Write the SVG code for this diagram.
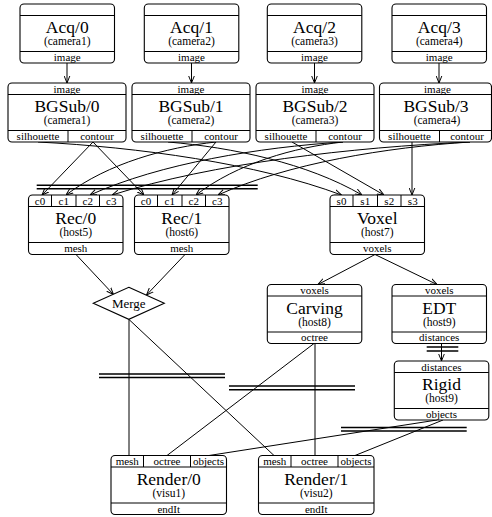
<svg xmlns="http://www.w3.org/2000/svg" width="492" height="517" viewBox="0 0 492 517">
<style>
.box{fill:#fff;stroke:#000;stroke-width:1.1}
.sep{stroke:#000;stroke-width:1;fill:none}
text{font-family:"Liberation Serif","Times New Roman",serif;text-anchor:middle;fill:#000}
.t{font-size:17.5px}
.s{font-size:11.5px}
.p{font-size:11px}
.e{fill:none;stroke:#000;stroke-width:1}
.a{marker-end:url(#arr)}
.bar{stroke:#000;stroke-width:1.6}
</style>
<defs>
<marker id="arr" viewBox="0 0 10 10" refX="10" refY="5" markerWidth="7" markerHeight="7" markerUnits="userSpaceOnUse" orient="auto">
<path d="M0,1 L10,5 L0,9" fill="none" stroke="#000" stroke-width="1.4"/>
</marker>
</defs>
<rect width="492" height="517" fill="#fff"/>

<g id="connectors">
<line class="e a" x1="67" y1="63" x2="67" y2="83"/>
<line class="e a" x1="191.5" y1="63" x2="191.5" y2="83"/>
<line class="e a" x1="314.5" y1="63" x2="314.5" y2="83"/>
<line class="e a" x1="439" y1="63" x2="439" y2="83"/>
<path class="e a" d="M93,142 L42,195"/>
<path class="e a" d="M93,142 L144,195"/>
<path class="e a" d="M216,142 C166.5,147.3 108,163.2 66,195"/>
<path class="e a" d="M216,142 L172,195"/>
<path class="e a" d="M343,142 C259.5,147.3 160.8,163.2 90,195"/>
<path class="e a" d="M343,142 C294.5,147.3 237.2,163.2 196,195"/>
<path class="e a" d="M470,142 C351.9,147.3 212.2,163.2 112,195"/>
<path class="e a" d="M470,142 C386.8,147.3 288.6,163.2 218,195"/>
<path class="e a" d="M38,142 C138.2,147.3 256.5,163.2 341.5,195"/>
<path class="e a" d="M168,142 C232,147.3 307.7,163.2 362,195"/>
<path class="e a" d="M292,142 L384,195"/>
<path class="e a" d="M412,142 L412,195"/>
<path class="e a" d="M76,254.5 L113.5,294.5"/>
<path class="e a" d="M185,254.5 L146.5,295"/>
<path class="e a" d="M375,254.5 L318,284.5"/>
<path class="e a" d="M375,254.5 L437,284.5"/>
<path class="e a" d="M441.5,343.5 L441.5,361"/>
<path class="e" d="M129,319.5 L129,455.5"/>
<path class="e" d="M129,319.5 L274,455.5"/>
<path class="e" d="M314,343.5 L167,455.5"/>
<path class="e" d="M315,343.5 L315,455.5"/>
<path class="e" d="M437,420 L209,455.5"/>
<path class="e" d="M443,420 L355,455.5"/>
<line class="bar" x1="36.7" y1="185.3" x2="257.7" y2="185.3"/>
<line class="bar" x1="36.7" y1="188.7" x2="257.7" y2="188.7"/>
<line class="bar" x1="99" y1="374" x2="225" y2="374"/>
<line class="bar" x1="99" y1="377.5" x2="225" y2="377.5"/>
<line class="bar" x1="229" y1="386" x2="355" y2="386"/>
<line class="bar" x1="229" y1="389.7" x2="355" y2="389.7"/>
<line class="bar" x1="341" y1="427.5" x2="466.7" y2="427.5"/>
<line class="bar" x1="341" y1="431" x2="466.7" y2="431"/>
<line class="bar" x1="426.7" y1="347" x2="458.3" y2="347"/>
<line class="bar" x1="426.7" y1="351" x2="458.3" y2="351"/>
</g>

<g id="acq0">
<rect class="box" x="20" y="4" width="94.5" height="59" rx="4"/>
<path class="sep" d="M20,15.5 H114.5 M20,51.5 H114.5"/>
<text class="t" x="67.25" y="33">Acq/0</text>
<text class="s" x="67.25" y="45">(camera1)</text>
<text class="p" x="67.25" y="60.5">image</text>
</g>
<g id="acq1">
<rect class="box" x="144.3" y="4" width="94.5" height="59" rx="4"/>
<path class="sep" d="M144.3,15.5 H238.8 M144.3,51.5 H238.8"/>
<text class="t" x="191.5" y="33">Acq/1</text>
<text class="s" x="191.5" y="45">(camera2)</text>
<text class="p" x="191.5" y="60.5">image</text>
</g>
<g id="acq2">
<rect class="box" x="267.3" y="4" width="94.5" height="59" rx="4"/>
<path class="sep" d="M267.3,15.5 H361.8 M267.3,51.5 H361.8"/>
<text class="t" x="314.5" y="33">Acq/2</text>
<text class="s" x="314.5" y="45">(camera3)</text>
<text class="p" x="314.5" y="60.5">image</text>
</g>
<g id="acq3">
<rect class="box" x="392" y="4" width="94.5" height="59" rx="4"/>
<path class="sep" d="M392,15.5 H486.5 M392,51.5 H486.5"/>
<text class="t" x="439.25" y="33">Acq/3</text>
<text class="s" x="439.25" y="45">(camera4)</text>
<text class="p" x="439.25" y="60.5">image</text>
</g>

<g id="bgsub0">
<rect class="box" x="8" y="83" width="118" height="59" rx="4"/>
<path class="sep" d="M8,94.5 H126 M8,130.5 H126 M68,130.5 V142"/>
<text class="p" x="67" y="92.5">image</text>
<text class="t" x="67" y="112">BGSub/0</text>
<text class="s" x="67" y="124">(camera1)</text>
<text class="p" x="38" y="139.5">silhouette</text>
<text class="p" x="97" y="139.5">contour</text>
</g>
<g id="bgsub1">
<rect class="box" x="132" y="83" width="118" height="59" rx="4"/>
<path class="sep" d="M132,94.5 H250 M132,130.5 H250 M192,130.5 V142"/>
<text class="p" x="191" y="92.5">image</text>
<text class="t" x="191" y="112">BGSub/1</text>
<text class="s" x="191" y="124">(camera2)</text>
<text class="p" x="162" y="139.5">silhouette</text>
<text class="p" x="221" y="139.5">contour</text>
</g>
<g id="bgsub2">
<rect class="box" x="256" y="83" width="118" height="59" rx="4"/>
<path class="sep" d="M256,94.5 H374 M256,130.5 H374 M316,130.5 V142"/>
<text class="p" x="315" y="92.5">image</text>
<text class="t" x="315" y="112">BGSub/2</text>
<text class="s" x="315" y="124">(camera3)</text>
<text class="p" x="286" y="139.5">silhouette</text>
<text class="p" x="345" y="139.5">contour</text>
</g>
<g id="bgsub3">
<rect class="box" x="379.5" y="83" width="112" height="59" rx="4"/>
<path class="sep" d="M379.5,94.5 H491.5 M379.5,130.5 H491.5 M439.5,130.5 V142"/>
<text class="p" x="437.5" y="92.5">image</text>
<text class="t" x="436" y="112">BGSub/3</text>
<text class="s" x="437" y="124">(camera4)</text>
<text class="p" x="409.5" y="139.5">silhouette</text>
<text class="p" x="467" y="139.5">contour</text>
</g>

<g id="rec0">
<rect class="box" x="28.5" y="195" width="94.5" height="59.5" rx="4"/>
<path class="sep" d="M28.5,206.5 H123 M28.5,242.5 H123 M51.5,195 V206.5 M76,195 V206.5 M99.5,195 V206.5"/>
<text class="p" x="40" y="204.5">c0</text>
<text class="p" x="63.75" y="204.5">c1</text>
<text class="p" x="87.75" y="204.5">c2</text>
<text class="p" x="111.25" y="204.5">c3</text>
<text class="t" x="75.75" y="224">Rec/0</text>
<text class="s" x="75.75" y="236">(host5)</text>
<text class="p" x="75.75" y="251.5">mesh</text>
</g>
<g id="rec1">
<rect class="box" x="134.5" y="195" width="94.5" height="59.5" rx="4"/>
<path class="sep" d="M134.5,206.5 H229 M134.5,242.5 H229 M157.5,195 V206.5 M182,195 V206.5 M205.5,195 V206.5"/>
<text class="p" x="146" y="204.5">c0</text>
<text class="p" x="169.75" y="204.5">c1</text>
<text class="p" x="193.75" y="204.5">c2</text>
<text class="p" x="217.25" y="204.5">c3</text>
<text class="t" x="181.75" y="224">Rec/1</text>
<text class="s" x="181.75" y="236">(host6)</text>
<text class="p" x="181.75" y="251.5">mesh</text>
</g>
<g id="voxel">
<rect class="box" x="330" y="195" width="94.5" height="59.5" rx="4"/>
<path class="sep" d="M330,206.5 H424.5 M330,242.5 H424.5 M353,195 V206.5 M377.5,195 V206.5 M401,195 V206.5"/>
<text class="p" x="341.5" y="204.5">s0</text>
<text class="p" x="365.25" y="204.5">s1</text>
<text class="p" x="389.25" y="204.5">s2</text>
<text class="p" x="412.75" y="204.5">s3</text>
<text class="t" x="377.25" y="224">Voxel</text>
<text class="s" x="377.25" y="236">(host7)</text>
<text class="p" x="377.25" y="251.5">voxels</text>
</g>

<g id="merge">
<polygon points="128.8,287.3 164.3,303.3 128.8,319.3 93.3,303.3" fill="#fff" stroke="#000" stroke-width="1.1"/>
<text x="128.8" y="307.8" style="font-size:13px">Merge</text>
</g>

<g id="carving">
<rect class="box" x="267.3" y="284.5" width="94.5" height="59" rx="4"/>
<path class="sep" d="M267.3,296 H361.8 M267.3,332 H361.8"/>
<text class="p" x="314.5" y="294">voxels</text>
<text class="t" x="314.5" y="313.5">Carving</text>
<text class="s" x="314.5" y="325.5">(host8)</text>
<text class="p" x="314.5" y="341">octree</text>
</g>
<g id="edt">
<rect class="box" x="392" y="284.5" width="94.5" height="59" rx="4"/>
<path class="sep" d="M392,296 H486.5 M392,332 H486.5"/>
<text class="p" x="439.25" y="294">voxels</text>
<text class="t" x="439.25" y="313.5">EDT</text>
<text class="s" x="439.25" y="325.5">(host9)</text>
<text class="p" x="439.25" y="341">distances</text>
</g>
<g id="rigid">
<rect class="box" x="394.3" y="361" width="94.5" height="59" rx="4"/>
<path class="sep" d="M394.3,372.5 H488.8 M394.3,408.5 H488.8"/>
<text class="p" x="441.5" y="370.5">distances</text>
<text class="t" x="441.5" y="390">Rigid</text>
<text class="s" x="441.5" y="402">(host9)</text>
<text class="p" x="441.5" y="417.5">objects</text>
</g>

<g id="render0">
<rect class="box" x="111" y="455.5" width="115.5" height="59" rx="4"/>
<path class="sep" d="M111,467 H226.5 M111,503 H226.5 M143.5,455.5 V467 M190.5,455.5 V467"/>
<text class="p" x="127.25" y="465">mesh</text>
<text class="p" x="167" y="465">octree</text>
<text class="p" x="208.5" y="465">objects</text>
<text class="t" x="168.75" y="484.5">Render/0</text>
<text class="s" x="168.75" y="496.5">(visu1)</text>
<text class="p" x="168.75" y="512.5">endIt</text>
</g>
<g id="render1">
<rect class="box" x="258.5" y="455.5" width="115.5" height="59" rx="4"/>
<path class="sep" d="M258.5,467 H374 M258.5,503 H374 M291,455.5 V467 M338,455.5 V467"/>
<text class="p" x="274.75" y="465">mesh</text>
<text class="p" x="314.5" y="465">octree</text>
<text class="p" x="356" y="465">objects</text>
<text class="t" x="316.25" y="484.5">Render/1</text>
<text class="s" x="316.25" y="496.5">(visu2)</text>
<text class="p" x="316.25" y="512.5">endIt</text>
</g>
</svg>
